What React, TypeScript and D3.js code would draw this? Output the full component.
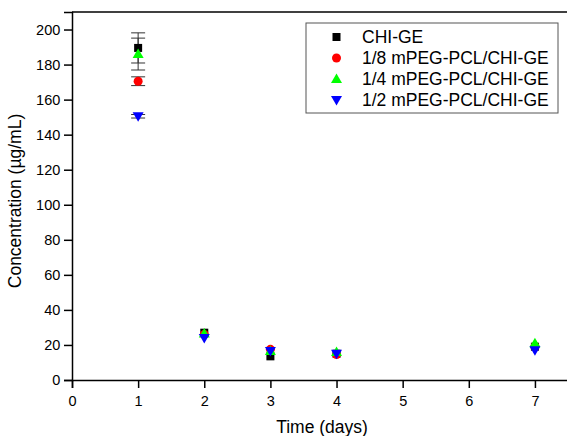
import React, { useRef, useEffect } from 'react';
import * as d3 from 'd3';

const days = [1, 2, 3, 4, 7];
const seriesNames = ['CHI-GE', '1/8 mPEG-PCL/CHI-GE', '1/4 mPEG-PCL/CHI-GE', '1/2 mPEG-PCL/CHI-GE'];
const seriesColors = ['#000000', '#ff0000', '#00ff00', '#0000ff'];
const seriesShapes = ['square', 'circle', 'up', 'down'];
const chiGe = [189.5, 27, 13.5, 15, 19];
const chiGeErr = [8.6, 0, 0, 0, 0];
const peg18 = [170.5, 26, 17.5, 14.5, 19];
const peg18Err = [2.5, 0, 0, 0, 0];
const peg14 = [186, 26.5, 16.5, 16, 21];
const peg14Err = [9.1, 0, 0, 0, 0];
const peg12 = [150.5, 24, 16.5, 15, 17];
const peg12Err = [1, 0, 0, 0, 0];
const xTicks = [0, 1, 2, 3, 4, 5, 6, 7];
const yTicks = [0, 20, 40, 60, 80, 100, 120, 140, 160, 180, 200];

const allValues = [chiGe, peg18, peg14, peg12];
const allErrs = [chiGeErr, peg18Err, peg14Err, peg12Err];

const App = () => {
  const svgRef = useRef(null);

  useEffect(() => {
    const svg = d3.select(svgRef.current);
    svg.selectAll('*').remove();

    const width = 567;
    const height = 436;
    const margin = { top: 12, right: -1, bottom: 56, left: 72 };

    const x = d3.scaleLinear().domain([0, 7.5]).range([margin.left, width - margin.right]);
    const y = d3.scaleLinear().domain([0, 210]).range([height - margin.bottom, margin.top]);

    const font = 'Arial, "Liberation Sans", sans-serif';

    // frame top
    svg.append('line')
      .attr('x1', margin.left).attr('x2', width)
      .attr('y1', margin.top).attr('y2', margin.top)
      .attr('stroke', '#000').attr('stroke-width', 1.5);

    // x axis
    const xAxis = svg.append('g').attr('transform', `translate(0,${y(0)})`);
    xAxis.call(d3.axisBottom(x).tickValues(d3.range(0.5, 7.6, 1)).tickSize(4).tickFormat(() => ''));
    xAxis.call(d3.axisBottom(x).tickValues(xTicks).tickSize(8).tickFormat(d3.format('d')));
    xAxis.selectAll('.domain').attr('stroke-width', 1.5);
    xAxis.selectAll('line').attr('stroke-width', 1.5);
    xAxis.selectAll('text').attr('font-size', 14.5).attr('font-family', font).attr('dy', '1.0em');

    // y axis
    const yAxis = svg.append('g').attr('transform', `translate(${margin.left},0)`);
    yAxis.call(d3.axisLeft(y).tickValues(d3.range(10, 211, 20)).tickSize(4).tickFormat(() => ''));
    yAxis.call(d3.axisLeft(y).tickValues(yTicks).tickSize(8).tickFormat(d3.format('d')));
    yAxis.selectAll('.domain').attr('stroke-width', 1.5);
    yAxis.selectAll('line').attr('stroke-width', 1.5);
    yAxis.selectAll('text').attr('font-size', 14.5).attr('font-family', font).attr('dx', '-0.05em');

    // axis titles
    svg.append('text')
      .attr('x', 322).attr('y', 433)
      .attr('text-anchor', 'middle')
      .attr('font-size', 17.5).attr('font-family', font)
      .text('Time (days)');
    svg.append('text')
      .attr('transform', `translate(21,201) rotate(-90)`)
      .attr('text-anchor', 'middle')
      .attr('font-size', 17.5).attr('font-family', font)
      .text('Concentration (\u00b5g/mL)');

    const drawMarker = (g, shape, color, cx, cy) => {
      if (shape === 'square') {
        g.append('rect').attr('x', cx - 4).attr('y', cy - 4).attr('width', 8).attr('height', 8).attr('fill', color);
      } else if (shape === 'circle') {
        g.append('circle').attr('cx', cx).attr('cy', cy).attr('r', 4.5).attr('fill', color);
      } else if (shape === 'up') {
        g.append('path').attr('d', `M${cx},${cy - 5.5}L${cx + 5.5},${cy + 4}L${cx - 5.5},${cy + 4}Z`).attr('fill', color);
      } else {
        g.append('path').attr('d', `M${cx},${cy + 5.5}L${cx + 5.5},${cy - 4}L${cx - 5.5},${cy - 4}Z`).attr('fill', color);
      }
    };

    // error bars
    const errG = svg.append('g');
    allValues.forEach((vals, si) => {
      vals.forEach((v, i) => {
        const e = allErrs[si][i];
        if (!e) return;
        const cx = x(days[i]);
        errG.append('line').attr('x1', cx).attr('x2', cx).attr('y1', y(v - e)).attr('y2', y(v + e))
          .attr('stroke', '#333').attr('stroke-width', 1);
        [v - e, v + e].forEach(b => {
          errG.append('line').attr('x1', cx - 7).attr('x2', cx + 7).attr('y1', y(b)).attr('y2', y(b))
            .attr('stroke', '#333').attr('stroke-width', 1);
        });
      });
    });

    // markers
    allValues.forEach((vals, si) => {
      const g = svg.append('g');
      vals.forEach((v, i) => drawMarker(g, seriesShapes[si], seriesColors[si], x(days[i]), y(v)));
    });

    // legend
    const lg = svg.append('g');
    lg.append('rect').attr('x', 306).attr('y', 23).attr('width', 252).attr('height', 90)
      .attr('fill', '#fff').attr('stroke', '#555').attr('stroke-width', 1);
    seriesNames.forEach((name, i) => {
      const ly = 37 + i * 21;
      drawMarker(lg, seriesShapes[i], seriesColors[i], 336.5, ly);
      lg.append('text').attr('x', 362).attr('y', ly).attr('dy', '0.36em')
        .attr('font-size', 17.5).attr('font-family', font).text(name);
    });
  }, []);

  return (
    <svg ref={svgRef} width={567} height={436} style={{ position: 'absolute', left: 0, top: 0 }}></svg>
  );
};

export default App;
